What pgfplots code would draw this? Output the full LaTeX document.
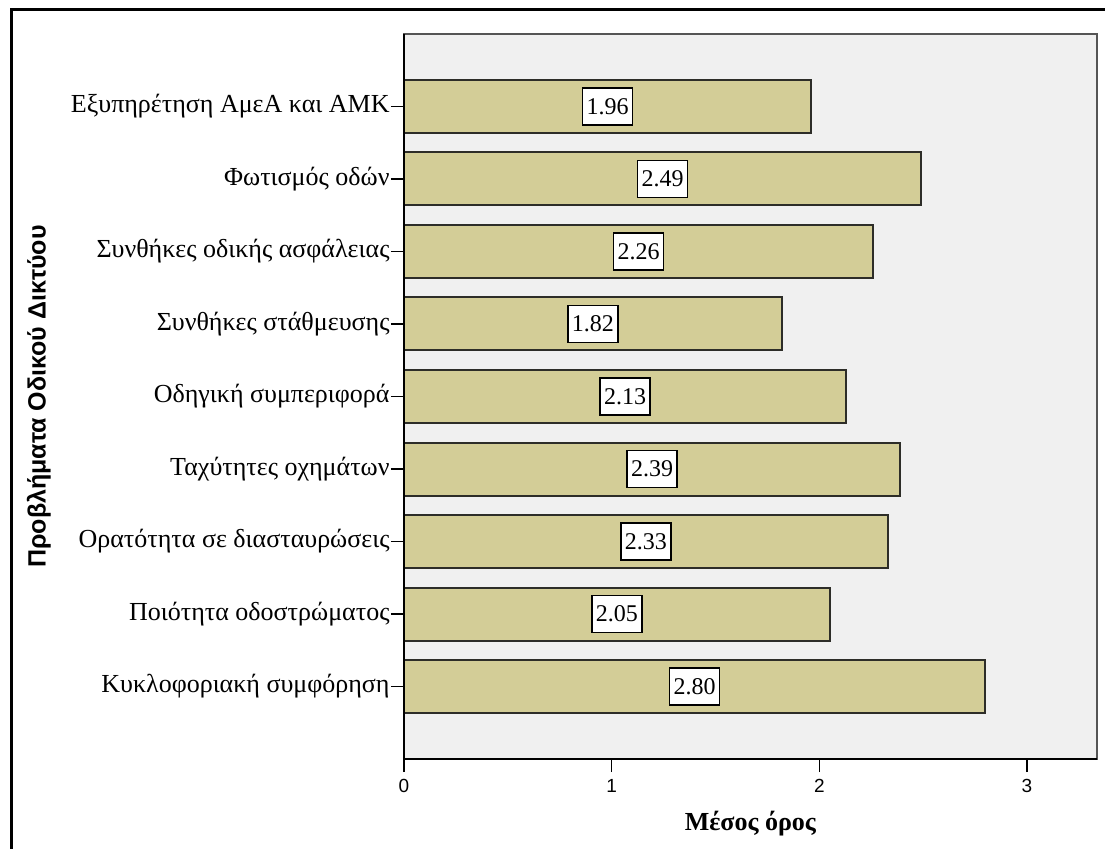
\documentclass[border=0pt]{standalone}
\usepackage{fontspec}
\setmainfont{Liberation Serif}
\setsansfont{Liberation Sans}
\usepackage{pgfplots}
\usepackage{pgfplotstable}
\pgfplotsset{compat=1.18}

\definecolor{panel}{RGB}{240,240,240}
\definecolor{barfill}{RGB}{211,205,151}
\definecolor{barline}{RGB}{45,45,40}
\definecolor{boxline}{RGB}{85,85,85}

% mean score per road-network problem (pos 9 = top row)
\pgfplotstableread{
pos value
9 1.96
8 2.49
7 2.26
6 1.82
5 2.13
4 2.39
3 2.33
2 2.05
1 2.80
}\means

\begin{document}
\begin{tikzpicture}[x=0.5pt,y=0.5pt]
\path[use as bounding box] (0,0) rectangle (1105,848);
% outer frame
\draw[line width=1.5pt] (11,-20) -- (11,838) -- (1130,838);

\begin{axis}[
  at={(202pt,44.5pt)}, anchor=south west,
  scale only axis, width=346.5pt, height=362.5pt,
  xmin=0, xmax=3.337, ymin=0, ymax=10,
  axis background/.style={fill=panel},
  axis line style={draw=boxline, line width=0.75pt},
  xtick={0,1,2,3}, xtick pos=lower,
  ytick={1,...,9}, ytick pos=left,
  yticklabels={Κυκλοφοριακή συμφόρηση, Ποιότητα οδοστρώματος, Ορατότητα σε διασταυρώσεις, Ταχύτητες οχημάτων, Οδηγική συμπεριφορά, Συνθήκες στάθμευσης, Συνθήκες οδικής ασφάλειας, Φωτισμός οδών, Εξυπηρέτηση ΑμεΑ και ΑΜΚ},
  tick align=outside,
  major tick length=6.5pt,
  tick style={black, line width=0.75pt},
  /pgf/number format/assume math mode=true,
  xticklabel style={font=\sffamily\fontsize{9.5}{10}\selectfont},
  yticklabel style={font=\fontsize{13}{15}\selectfont, inner xsep=0.5pt},
  xlabel={\textbf{Μέσος όρος}},
  xlabel style={font=\fontsize{13}{15}\selectfont, at={(axis description cs:0.5,-0.0897)}, anchor=center},
  ylabel={\textbf{Προβλήματα Οδικού Δικτύου}},
  ylabel style={font=\sffamily\fontsize{12.5}{14}\selectfont, at={(axis description cs:-0.527,0.5)}, anchor=center},
  clip=false,
]
\addplot[xbar, bar width=26.5pt, bar shift=0pt, fill=barfill, draw=barline, line width=1pt]
  table[x=value, y=pos] {\means};
% value labels centred on each bar
\addplot[draw=none, point meta=explicit,
  nodes near coords={\pgfmathprintnumber[fixed, fixed zerofill, precision=2]{\pgfplotspointmeta}},
  nodes near coords align={center},
  every node near coord/.append style={anchor=center, draw=black, fill=white, line width=0.75pt,
    font=\fontsize{12}{14}\selectfont, inner xsep=2pt, minimum height=18.5pt, text=black}]
  table[x expr=\thisrow{value}/2, y=pos, meta=value] {\means};
% darker left and bottom axis lines
\draw[black, line width=1pt] (rel axis cs:0,1) -- (rel axis cs:0,0) -- (rel axis cs:1,0);
\end{axis}
\end{tikzpicture}
\end{document}
